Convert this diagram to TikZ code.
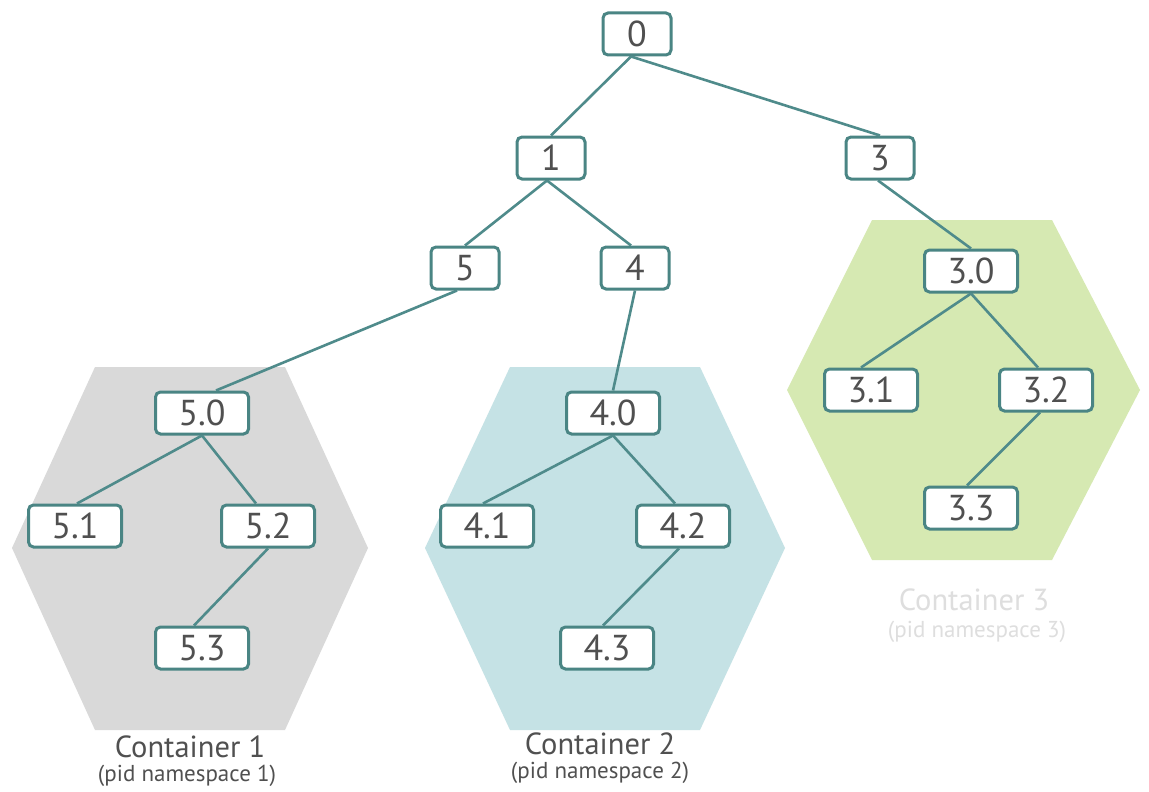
\documentclass[tikz,border=0pt]{standalone}
\usepackage{fontspec}
\setmainfont{PT Sans}
\definecolor{edgecol}{HTML}{4F8B8B}
\definecolor{boxcol}{HTML}{4A8584}
\definecolor{txtcol}{HTML}{505050}
\definecolor{hexgray}{HTML}{D9D9D9}
\definecolor{hexteal}{HTML}{C5E2E5}
\definecolor{hexgreen}{HTML}{D6E9B2}
\definecolor{faint}{HTML}{DEDEDE}
\begin{document}
\begin{tikzpicture}[x=1pt,y=-1pt,
  pbox/.style={draw=boxcol,line width=3pt,rounded corners=5pt,fill=white,
    minimum height=42pt,inner sep=0pt,text=txtcol,font=\fontsize{36}{36}\selectfont},
  sbox/.style={pbox,minimum width=68pt},
  wbox/.style={pbox,minimum width=93pt},
  link/.style={draw=edgecol,line width=2.6pt},
  ctitle/.style={text=txtcol,font=\fontsize{30.5}{30.5}\selectfont},
  csub/.style={text=txtcol,font=\fontsize{23}{23}\selectfont},
]
\useasboundingbox (0,0) rectangle (1149,792);
\fill[white] (0,0) rectangle (1149,792);
% hexagons
\fill[hexgray] (95,367) -- (285,367) -- (368,548) -- (285,730) -- (95,730) -- (12,548) -- cycle;
\fill[hexteal] (510,367) -- (700,367) -- (785,548) -- (700,730) -- (510,730) -- (425,548) -- cycle;
\fill[hexgreen] (872,220) -- (1052,220) -- (1140,390) -- (1052,560) -- (872,560) -- (787,390) -- cycle;
% nodes
\node[sbox] (n0) at (637,34) {0};
\node[sbox] (n1) at (551,158) {1};
\node[sbox] (n3) at (880,158) {3};
\node[sbox] (n5) at (465,268) {5};
\node[sbox] (n4) at (635,268) {4};
\node[wbox] (n30) at (971,271) {3.0};
\node[wbox] (n31) at (871,390) {3.1};
\node[wbox] (n32) at (1046,390) {3.2};
\node[wbox] (n33) at (971,508) {3.3};
\node[wbox] (n50) at (202,413) {5.0};
\node[wbox] (n51) at (75,526) {5.1};
\node[wbox] (n52) at (268,526) {5.2};
\node[wbox] (n53) at (202,648) {5.3};
\node[wbox] (n40) at (613,413) {4.0};
\node[wbox] (n41) at (487,526) {4.1};
\node[wbox] (n42) at (683,526) {4.2};
\node[wbox] (n43) at (607,648) {4.3};
% edges
\path[link] ([xshift=-6pt]n0.south) -- (n1.north);
\path[link] ([xshift=-6pt]n0.south) -- (n3.north);
\path[link] ([xshift=-4pt]n1.south) -- (n5.north);
\path[link] ([xshift=-4pt]n1.south) -- ([xshift=-4pt]n4.north);
\path[link] ([xshift=-8pt]n5.south) -- ([xshift=14pt]n50.north);
\path[link] (n4.south) -- (n40.north);
\path[link] ([xshift=-2pt]n3.south) -- (n30.north);
\path[link] (n30.south) -- ([xshift=-10pt]n31.north);
\path[link] (n30.south) -- ([xshift=-8pt]n32.north);
\path[link] ([xshift=-6pt]n32.south) -- ([xshift=-4pt]n33.north);
\path[link] (n50.south) -- ([xshift=2pt]n51.north);
\path[link] (n50.south) -- ([xshift=-12pt]n52.north);
\path[link] (n52.south) -- ([xshift=-8pt]n53.north);
\path[link] (n40.south) -- ([xshift=-4pt]n41.north);
\path[link] (n40.south) -- ([xshift=-8pt]n42.north);
\path[link] ([xshift=-4pt]n42.south) -- ([xshift=-4pt]n43.north);
% labels
\node[ctitle] (c1) at (190,747) {Container 1};
\node[csub] (c1s) at (187,776) {(pid namespace 1)};
\node[ctitle] (c2) at (600,744) {Container 2};
\node[csub] (c2s) at (600,773) {(pid namespace 2)};
\node[ctitle,text=faint] (c3) at (974,600) {Container 3};
\node[csub,text=faint] (c3s) at (977,632) {(pid namespace 3)};
\end{tikzpicture}
\end{document}
